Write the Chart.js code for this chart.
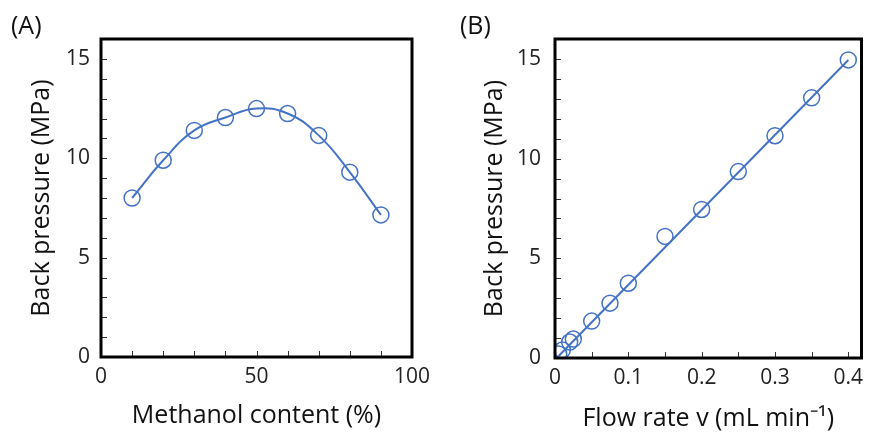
<!DOCTYPE html>
<html>
<head>
<meta charset="utf-8">
<script src="https://cdn.jsdelivr.net/npm/chart.js@4.4.1/dist/chart.umd.min.js"></script>
<style>
  body { margin:0; background:#fff; width:871px; height:434px; position:relative; overflow:hidden; font-family:"Open Sans", sans-serif; }
  .wrap { position:absolute; top:0; height:434px; }
  .lbl { position:absolute; top:9px; font-size:25px; line-height:30px; color:#111; }
</style>
</head>
<body>
<div class="wrap" style="left:0;width:440px;"><canvas id="chartA"></canvas></div>
<div class="wrap" style="left:440px;width:431px;"><canvas id="chartB"></canvas></div>
<div class="lbl" style="left:11px;">(A)</div>
<div class="lbl" style="left:460px;">(B)</div>
<script>
// panel A: back pressure vs methanol content
var methanol = [10, 20, 30, 40, 50, 60, 70, 80, 90];
var pressureA = [8.0, 9.9, 11.4, 12.05, 12.5, 12.25, 11.15, 9.3, 7.15];

// panel B: back pressure vs flow rate
var flowRate = [0.005, 0.01, 0.02, 0.025, 0.05, 0.075, 0.1, 0.15, 0.2, 0.25, 0.3, 0.35, 0.4];
var pressureB = [0.2, 0.4, 0.8, 0.95, 1.85, 2.75, 3.75, 6.1, 7.45, 9.35, 11.15, 13.05, 14.95];
var fitX = [0.005, 0.4];
var fitY = [0.1, 14.95];

// tick labels
var yTicks = [0, 5, 10, 15];
var xTicksA = [0, 50, 100];
var xTicksB = [0, 0.1, 0.2, 0.3, 0.4];

var blue = '#4472C4';
var fontFam = '"Open Sans", sans-serif';

Chart.defaults.font.family = fontFam;
Chart.defaults.color = '#222';

function pts(xs, ys) {
  return xs.map(function(x, i){ return {x:x, y:ys[i]}; });
}

// frame + inward minor ticks
var framePlugin = {
  id: 'frame',
  afterDatasetsDraw: function(chart, args, opts) {
    var ctx = chart.ctx, a = chart.chartArea;
    var xs = chart.scales.x, ys = chart.scales.y;
    ctx.save();
    ctx.strokeStyle = '#333';
    ctx.lineWidth = 1;
    ctx.beginPath();
    for (var v = xs.min + opts.xStep; v < xs.max - 1e-9; v += opts.xStep) {
      var px = Math.round(xs.getPixelForValue(v)) + 0.5;
      ctx.moveTo(px, a.bottom); ctx.lineTo(px, a.bottom - 6);
    }
    for (var w = ys.min + opts.yStep; w < ys.max - 1e-9; w += opts.yStep) {
      var py = Math.round(ys.getPixelForValue(w)) + 0.5;
      ctx.moveTo(a.left, py); ctx.lineTo(a.left + 6, py);
    }
    ctx.stroke();
    ctx.strokeStyle = '#000';
    ctx.lineWidth = 3;
    ctx.strokeRect(a.left, a.top, a.right - a.left, a.bottom - a.top);
    ctx.restore();
  }
};

function makeChart(id, cfg) {
  return new Chart(document.getElementById(id), {
    type: 'scatter',
    data: { datasets: cfg.datasets },
    options: {
      responsive: true,
      maintainAspectRatio: false,
      animation: false,
      layout: { padding: { top: 39, right: cfg.padRight, left: 0, bottom: 0 } },
      plugins: {
        legend: { display: false },
        tooltip: { enabled: false },
        frame: { xStep: cfg.xStep, yStep: 1 }
      },
      scales: {
        x: {
          type: 'linear',
          min: 0, max: cfg.xMax,
          grid: { display: false, drawTicks: false },
          border: { display: false },
          afterBuildTicks: function(s){ s.ticks = cfg.xTicks.map(function(v){ return {value:v}; }); },
          afterFit: function(s){ s.height = cfg.xHeight; },
          ticks: { autoSkip: false, maxRotation: 0, padding: 7, font: { size: 21 }, color: '#222',
                   callback: function(v){ return String(Math.round(v * 100) / 100); } },
          title: { display: true, text: cfg.xTitle, font: { size: 25 }, color: '#111',
                   padding: { top: 0, bottom: cfg.xTitlePad } }
        },
        y: {
          type: 'linear',
          min: 0, max: 16,
          grid: { display: false, drawTicks: false },
          border: { display: false },
          afterBuildTicks: function(s){ s.ticks = yTicks.map(function(v){ return {value:v}; }); },
          afterFit: function(s){ s.width = cfg.yWidth; },
          ticks: { autoSkip: false, padding: cfg.yTickPad, font: { size: 21 }, color: '#222' },
          title: { display: true, text: 'Back pressure (MPa)', font: { size: 25 }, color: '#111',
                   padding: { top: cfg.yTitlePad, bottom: 0 } }
        }
      }
    },
    plugins: [framePlugin]
  });
}

makeChart('chartA', {
  datasets: [
    { data: pts(methanol, pressureA), showLine: true, tension: 0.45, borderColor: blue, borderWidth: 2,
      pointRadius: 0, fill: false },
    { data: pts(methanol, pressureA), showLine: false, pointRadius: 8, pointBorderWidth: 1.5,
      pointBorderColor: blue, pointBackgroundColor: 'rgba(0,0,0,0)' }
  ],
  xMax: 100, xStep: 10, xTicks: xTicksA, padRight: 28, xHeight: 77, yWidth: 101,
  xTitle: 'Methanol content (%)', xTitlePad: 3, yTitlePad: 27, yTickPad: 11
});

makeChart('chartB', {
  datasets: [
    { data: pts(fitX, fitY), showLine: true, tension: 0, borderColor: blue, borderWidth: 2,
      pointRadius: 0, fill: false },
    { data: pts(flowRate, pressureB), showLine: false, pointRadius: 8, pointBorderWidth: 1.5,
      pointBorderColor: blue, pointBackgroundColor: 'rgba(0,0,0,0)' }
  ],
  xMax: 0.418, xStep: 0.05, xTicks: xTicksB, padRight: 5, xHeight: 76, yWidth: 115,
  xTitle: 'Flow rate v (mL min\u207B\u00B9)', xTitlePad: 0, yTitlePad: 40, yTickPad: 14
});
</script>
</body>
</html>
